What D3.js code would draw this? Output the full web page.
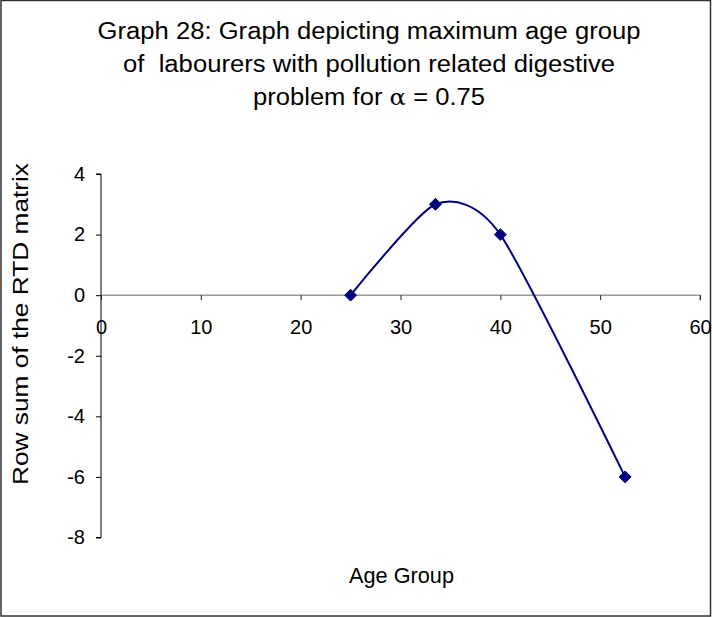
<!DOCTYPE html>
<html><head><meta charset="utf-8">
<script src="https://cdn.jsdelivr.net/npm/d3@7"></script>
<style>body{margin:0;background:#fff;} svg{display:block;}</style>
</head><body>
<script>
const ageGroup = [25, 33.5, 40, 52.5];
const rowSum = [0, 3, 2, -6];
const xTicks = [0, 10, 20, 30, 40, 50, 60];
const yTicks = [-8, -6, -4, -2, 0, 2, 4];
const titleLines = ["Graph 28: Graph depicting maximum age group", "of\u00a0 labourers with pollution related digestive"];

const W = 712, H = 617;
const svg = d3.select("body").append("svg").attr("width", W).attr("height", H);
svg.append("rect").attr("x", 1).attr("y", 0.5).attr("width", W - 2.5).attr("height", H - 1.5)
  .attr("fill", "#fff").attr("stroke", "#333").attr("stroke-width", 1.5);

const font = "Liberation Sans, Arial, sans-serif";
const x = d3.scaleLinear().domain([0, 60]).range([101, 700]);
const y = d3.scaleLinear().domain([-8, 4]).range([537.5, 174]);

// title
const t = svg.append("g").attr("font-family", font).attr("font-size", 23).attr("fill", "#000")
  .attr("text-anchor", "middle");
const titleLens = [543, 492];
titleLines.forEach((s, i) => t.append("text").attr("x", 369).attr("y", 38.5 + i * 33.3)
  .attr("textLength", titleLens[i]).attr("lengthAdjust", "spacingAndGlyphs").text(s));
const t3 = t.append("text").attr("x", 369).attr("y", 105)
  .attr("textLength", 232).attr("lengthAdjust", "spacingAndGlyphs");
t3.append("tspan").text("problem for ");
t3.append("tspan").attr("font-family", "DejaVu Serif, serif").attr("font-size", 22).text("α");
t3.append("tspan").text(" = 0.75");

// y axis
const yAxis = svg.append("g").attr("transform", `translate(${x(0)},0)`)
  .call(d3.axisLeft(y).tickValues(yTicks).tickSize(5).tickPadding(11).tickFormat(d => String(d)));
yAxis.select(".domain").attr("stroke", "#000").attr("d", `M-5,${y(4)}H0V${y(-8)}H-5`);
yAxis.selectAll("text").attr("font-family", font).attr("font-size", 20).attr("fill", "#000");
yAxis.selectAll("line").attr("stroke", "#000");

// x axis at y=0
const xAxis = svg.append("g").attr("transform", `translate(0,${y(0)})`)
  .call(d3.axisBottom(x).tickValues(xTicks).tickSize(5).tickPadding(20).tickFormat(d => String(d)));
xAxis.select(".domain").attr("stroke", "#666").attr("d", `M${x(0)},0H${x(60)}V5`);
xAxis.selectAll("text").attr("font-family", font).attr("font-size", 20).attr("fill", "#000");
xAxis.selectAll("line").attr("stroke", "#222");

// axis titles
svg.append("text").attr("x", 401.5).attr("y", 583).attr("text-anchor", "middle")
  .attr("font-family", font).attr("font-size", 22)
  .attr("textLength", 105).attr("lengthAdjust", "spacingAndGlyphs").text("Age Group");
svg.append("text").attr("transform", "translate(28,324) rotate(-90)").attr("text-anchor", "middle")
  .attr("font-family", font).attr("font-size", 21.5)
  .attr("textLength", 322).attr("lengthAdjust", "spacingAndGlyphs").text("Row sum of the RTD matrix");

// line
const pts = ageGroup.map((a, i) => [a, rowSum[i]]);
const line = d3.line().x(d => x(d[0])).y(d => y(d[1])).curve(d3.curveCardinal.tension(0.3));
svg.append("path").attr("d", line(pts)).attr("fill", "none").attr("stroke", "#000080").attr("stroke-width", 2);
svg.selectAll(".m").data(pts).enter().append("path")
  .attr("transform", d => `translate(${x(d[0])},${y(d[1])})`)
  .attr("d", d3.symbol().type(d3.symbolDiamond2).size(90))
  .attr("fill", "#000080").attr("stroke", "#000080").attr("stroke-width", 1);
</script>
</body></html>
